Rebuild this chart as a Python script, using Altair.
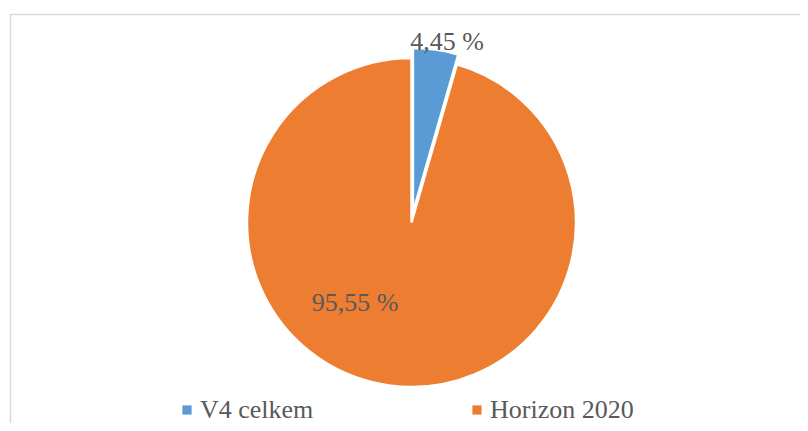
import altair as alt
import pandas as pd

categories = ["V4 celkem", "Horizon 2020"]
values = [4.45, 95.55]
order = [0, 1]
colors = ["#5B9BD5", "#ED7D31"]

df = pd.DataFrame({"category": categories, "value": values, "order": order})

FONT = "Liberation Serif"
TXT = "#595959"
CX, CY, R = 403.5, 214.5, 164.5

base = alt.Chart(df).transform_calculate(
    label="replace(format(datum.value, '.2f'), '.', ',') + ' %'"
)

theta = alt.Theta("value:Q", stack=True)
ordr = alt.Order("order:Q", sort="ascending")
color = alt.Color(
    "category:N",
    scale=alt.Scale(domain=categories, range=colors),
    sort=categories,
    legend=alt.Legend(
        title=None,
        orient="none",
        direction="horizontal",
        legendX=166,
        legendY=389,
        padding=0,
        columnPadding=150,
        symbolType="square",
        symbolSize=85,
        symbolStrokeWidth=0,
        labelFont=FONT,
        labelFontSize=26,
        labelColor=TXT,
        labelOffset=0,
        labelLimit=400,
    ),
)

is_blue = "datum.category === 'V4 celkem'"

orange_arc = base.mark_arc(radius=R, stroke="white", strokeWidth=2.5).encode(
    theta=theta,
    order=ordr,
    color=color,
    x=alt.value(CX),
    y=alt.value(CY),
    opacity=alt.condition(is_blue, alt.value(0), alt.value(1)),
)

blue_arc = base.mark_arc(
    radius=R, stroke="white", strokeWidth=2.5, xOffset=1.4, yOffset=-9.9
).encode(
    theta=theta,
    order=ordr,
    color=alt.Color("category:N", scale=alt.Scale(domain=categories, range=colors), legend=None),
    x=alt.value(CX),
    y=alt.value(CY),
    opacity=alt.condition(is_blue, alt.value(1), alt.value(0)),
)

blue_text = base.mark_text(
    radius=184, dx=10, dy=2, font=FONT, fontSize=26, color=TXT, baseline="middle"
).encode(
    theta=theta,
    order=ordr,
    text="label:N",
    x=alt.value(CX),
    y=alt.value(CY),
    opacity=alt.condition(is_blue, alt.value(1), alt.value(0)),
)

orange_text = base.mark_text(
    radius=100, dx=-42.6, dy=-18.5, font=FONT, fontSize=26, color=TXT, baseline="middle"
).encode(
    theta=theta,
    order=ordr,
    text="label:N",
    x=alt.value(CX),
    y=alt.value(CY),
    opacity=alt.condition(is_blue, alt.value(0), alt.value(1)),
)

one = pd.DataFrame({"a": [0]})
vline = alt.Chart(one).mark_rule(color="#D9D9D9", strokeWidth=1.5).encode(
    x=alt.value(2.5), y=alt.value(6), y2=alt.value(415)
)
hline = alt.Chart(one).mark_rule(color="#D9D9D9", strokeWidth=1.5).encode(
    x=alt.value(2), x2=alt.value(792), y=alt.value(6.5)
)

chart = alt.layer(vline, hline, orange_arc, blue_arc, blue_text, orange_text).properties(
    width=792,
    height=415,
    autosize=alt.AutoSizeParams(type="none"),
    padding=0,
).configure(font=FONT).configure_view(stroke=None).configure_text(font=FONT).configure_legend(labelFont=FONT)

chart.save("out.html", embed_options={"renderer": "svg", "actions": False})
